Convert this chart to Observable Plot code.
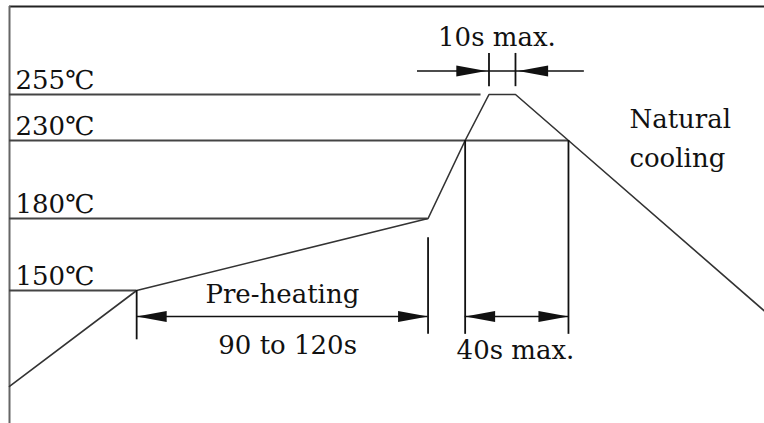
<!DOCTYPE html>
<html><head><meta charset="utf-8">
<script src="https://cdn.jsdelivr.net/npm/d3@7"></script>
<script src="https://cdn.jsdelivr.net/npm/@observablehq/plot@0.6"></script>
<style>
html,body{margin:0;padding:0;background:#fff;overflow:hidden;}
#chart svg{display:block;overflow:hidden;}
</style>
</head><body><div id="chart"></div>
<script>
// temperature levels (°C)
const levelTemps = [255, 230, 180, 150];
const levelLabels = ["255℃", "230℃", "180℃", "150℃"];
const levelEndTimes = [178, 211, 158, 48];

// reflow profile (time s, temperature °C)
const profileTimes = [0, 48, 158, 172, 181, 191, 211, 285];
const profileTemps = [80, 150, 180, 230, 255, 255, 230, 135];

// dimension ticks (vertical)
const tickTimes = [48, 158, 172, 211, 181, 191];
const tickTop = [150, 172, 230, 230, 276, 276];
const tickBottom = [114, 118, 118, 118, 259, 259];

// dimension shafts (horizontal)
const shaftFrom = [48, 172, 154];
const shaftTo = [158, 211, 217];
const shaftTemps = [131, 131, 267];

// arrow heads
const headTimes = [48, 158, 172, 211, 180, 192];
const headTemps = [131, 131, 131, 131, 267, 267];
const headDirs = ["left", "right", "left", "right", "right", "left"];

// annotations
const noteTexts = ["10s max.", "Pre-heating", "90 to 120s", "40s max."];
const noteTimes = [184, 103, 105, 191];
const noteTemps = [280, 141, 104, 100];
const coolingText = ["Natural\ncooling"];
const coolingTime = [234];
const coolingTemp = [213];

// scale domains
const timeDomain = [0, 285];
const tempDomain = [50, 150, 180, 230, 255, 300];

const font = "DejaVu Serif";
const fs = 26;
const ink = "#111";
const R = n => d3.range(n);

const headRight = {draw(ctx) { ctx.moveTo(0, 0); ctx.lineTo(-30, -5.5); ctx.lineTo(-30, 5.5); ctx.closePath(); }};
const headLeft = {draw(ctx) { ctx.moveTo(0, 0); ctx.lineTo(30, -5.5); ctx.lineTo(30, 5.5); ctx.closePath(); }};

const chart = Plot.plot({
  width: 764,
  height: 423,
  margin: 0,
  x: {type: "linear", domain: timeDomain, range: [9, 764], axis: null},
  y: {type: "linear", domain: tempDomain, range: [427, 290, 218, 140, 94, 6], axis: null},
  style: {background: "#fff"},
  marks: [
    Plot.ruleY([tempDomain[tempDomain.length - 1]], {x1: () => timeDomain[0], x2: () => timeDomain[1], stroke: "#222", strokeWidth: 2}),
    Plot.ruleX([timeDomain[0]], {y1: () => tempDomain[0], y2: () => tempDomain[tempDomain.length - 1], stroke: "#666", strokeWidth: 2}),
    Plot.ruleY(R(levelTemps.length), {y: i => levelTemps[i], x1: () => 0, x2: i => levelEndTimes[i], stroke: "#444", strokeWidth: 2}),
    Plot.line(R(profileTimes.length), {x: i => profileTimes[i], y: i => profileTemps[i], stroke: "#333", strokeWidth: 1.6}),
    Plot.ruleX(R(tickTimes.length), {x: i => tickTimes[i], y1: i => tickTop[i], y2: i => tickBottom[i], stroke: ink, strokeWidth: 1.8}),
    Plot.ruleY(R(shaftFrom.length), {y: i => shaftTemps[i], x1: i => shaftFrom[i], x2: i => shaftTo[i], stroke: ink, strokeWidth: 1.6}),
    Plot.dot(R(headTimes.length).filter(i => headDirs[i] === "right"), {x: i => headTimes[i], y: i => headTemps[i], symbol: headRight, fill: ink, stroke: "none"}),
    Plot.dot(R(headTimes.length).filter(i => headDirs[i] === "left"), {x: i => headTimes[i], y: i => headTemps[i], symbol: headLeft, fill: ink, stroke: "none"}),
    Plot.text(R(levelTemps.length), {x: () => 0, y: i => levelTemps[i], text: i => levelLabels[i], textAnchor: "start", lineAnchor: "bottom", dx: 6, dy: -6, fontSize: fs, fontFamily: font, fill: ink}),
    Plot.text(R(noteTexts.length), {x: i => noteTimes[i], y: i => noteTemps[i], text: i => noteTexts[i], textAnchor: "middle", lineAnchor: "bottom", fontSize: fs, fontFamily: font, fill: ink}),
    Plot.text(R(coolingText.length), {x: i => coolingTime[i], y: i => coolingTemp[i], text: i => coolingText[i], textAnchor: "start", lineAnchor: "bottom", lineHeight: 1.5, fontSize: fs, fontFamily: font, fill: ink})
  ]
});
document.getElementById("chart").appendChild(chart);
</script>
</body></html>
